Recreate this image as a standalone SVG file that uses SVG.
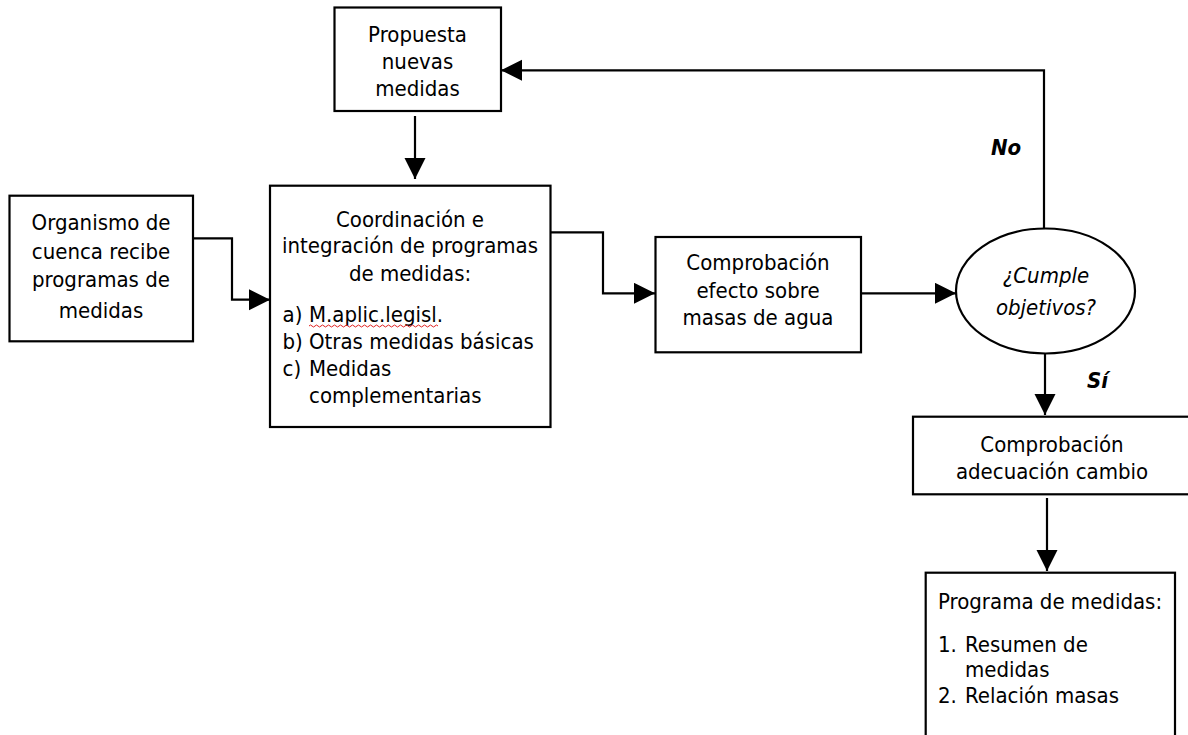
<svg xmlns="http://www.w3.org/2000/svg" width="1188" height="735" viewBox="0 0 1188 735">
<style>
  .box { fill: #ffffff; stroke: #000000; stroke-width: 2.2; }
  .t { font-family: "DejaVu Sans Condensed", "Liberation Sans", sans-serif; font-stretch: condensed; font-size: 22px; fill: #000000; }
  .c { text-anchor: middle; }
  .it { font-style: italic; }
  .lbl { font-weight: bold; font-style: italic; }
  .conn { fill: none; stroke: #000000; stroke-width: 2.2; marker-end: url(#ah); }
</style>
<defs>
  <marker id="ah" markerUnits="userSpaceOnUse" markerWidth="22" markerHeight="22" refX="21" refY="10.5" orient="auto">
    <path d="M0,0 L21,10.5 L0,21 z" fill="#000000"/>
  </marker>
</defs>
<rect width="1188" height="735" fill="#ffffff"/>

<g id="connectors">
  <path class="conn" d="M415,116 V179"/>
  <path class="conn" d="M193,238.3 H232 V299.7 H270"/>
  <path class="conn" d="M551,232.3 H603 V293.3 H655"/>
  <path class="conn" d="M861,293.3 H956"/>
  <path class="conn" d="M1044,228.3 V70.3 H501"/>
  <path class="conn" d="M1045,353.5 V415"/>
  <path class="conn" d="M1047,498 V571"/>
  <text class="t lbl" x="991" y="155">No</text>
  <text class="t lbl" x="1087" y="388">Sí</text>
</g>

<g id="propuesta">
  <rect class="box" x="334.5" y="7.5" width="166.5" height="103.5"/>
  <text class="t c" x="417.5" y="41.5">Propuesta</text>
  <text class="t c" x="417.5" y="68.5">nuevas</text>
  <text class="t c" x="417.5" y="96">medidas</text>
</g>

<g id="organismo">
  <rect class="box" x="9.5" y="195.7" width="183.5" height="145.6"/>
  <text class="t c" x="101" y="230">Organismo de</text>
  <text class="t c" x="101" y="258.7">cuenca recibe</text>
  <text class="t c" x="101" y="287.3">programas de</text>
  <text class="t c" x="101" y="318.3">medidas</text>
</g>

<g id="coordinacion">
  <rect class="box" x="270" y="185.7" width="280.5" height="241.3"/>
  <text class="t c" x="410" y="226.7">Coordinación e</text>
  <text class="t c" x="410" y="253.3">integración de programas</text>
  <text class="t c" x="410" y="281">de medidas:</text>
  <text class="t" x="282.5" y="322">a)</text>
  <text class="t" x="309" y="322">M.aplic.legisl.</text>
  <path d="M309,326 q1.5,-2 3,0 t3,0 t3,0 t3,0 t3,0 t3,0 t3,0 t3,0 t3,0 t3,0 t3,0 t3,0 t3,0 t3,0 t3,0 t3,0 t3,0 t3,0 t3,0 t3,0 t3,0 t3,0 t3,0 t3,0 t3,0 t3,0 t3,0 t3,0 t3,0 t3,0 t3,0 t3,0 t3,0 t3,0 t3,0 t3,0 t3,0 t3,0 t3,0 t3,0 t3,0 t3,0 t3,0" fill="none" stroke="#e02020" stroke-width="1"/>
  <text class="t" x="282.5" y="349">b)</text>
  <text class="t" x="309" y="349">Otras medidas básicas</text>
  <text class="t" x="282.5" y="376">c)</text>
  <text class="t" x="309" y="376">Medidas</text>
  <text class="t" x="309" y="403">complementarias</text>
</g>

<g id="comprobacion-efecto">
  <rect class="box" x="655.5" y="237" width="205.5" height="115.3"/>
  <text class="t c" x="758" y="270">Comprobación</text>
  <text class="t c" x="758" y="297.5">efecto sobre</text>
  <text class="t c" x="758" y="325">masas de agua</text>
</g>

<g id="cumple">
  <ellipse class="box" cx="1045.5" cy="291" rx="89.5" ry="62.5"/>
  <text class="t c it" x="1046" y="283.3">¿Cumple</text>
  <text class="t c it" x="1046" y="315">objetivos?</text>
</g>

<g id="comprobacion-adecuacion">
  <rect class="box" x="913" y="416.7" width="280" height="77.6"/>
  <text class="t c" x="1052" y="451.7">Comprobación</text>
  <text class="t c" x="1052" y="479">adecuación cambio</text>
</g>

<g id="programa">
  <rect class="box" x="925.7" y="572.7" width="249.3" height="170"/>
  <text class="t" x="938" y="609">Programa de medidas:</text>
  <text class="t" x="938" y="651.7">1.</text>
  <text class="t" x="965" y="651.7">Resumen de</text>
  <text class="t" x="965" y="676.7">medidas</text>
  <text class="t" x="938" y="703.3">2.</text>
  <text class="t" x="965" y="703.3">Relación masas</text>
</g>
</svg>
